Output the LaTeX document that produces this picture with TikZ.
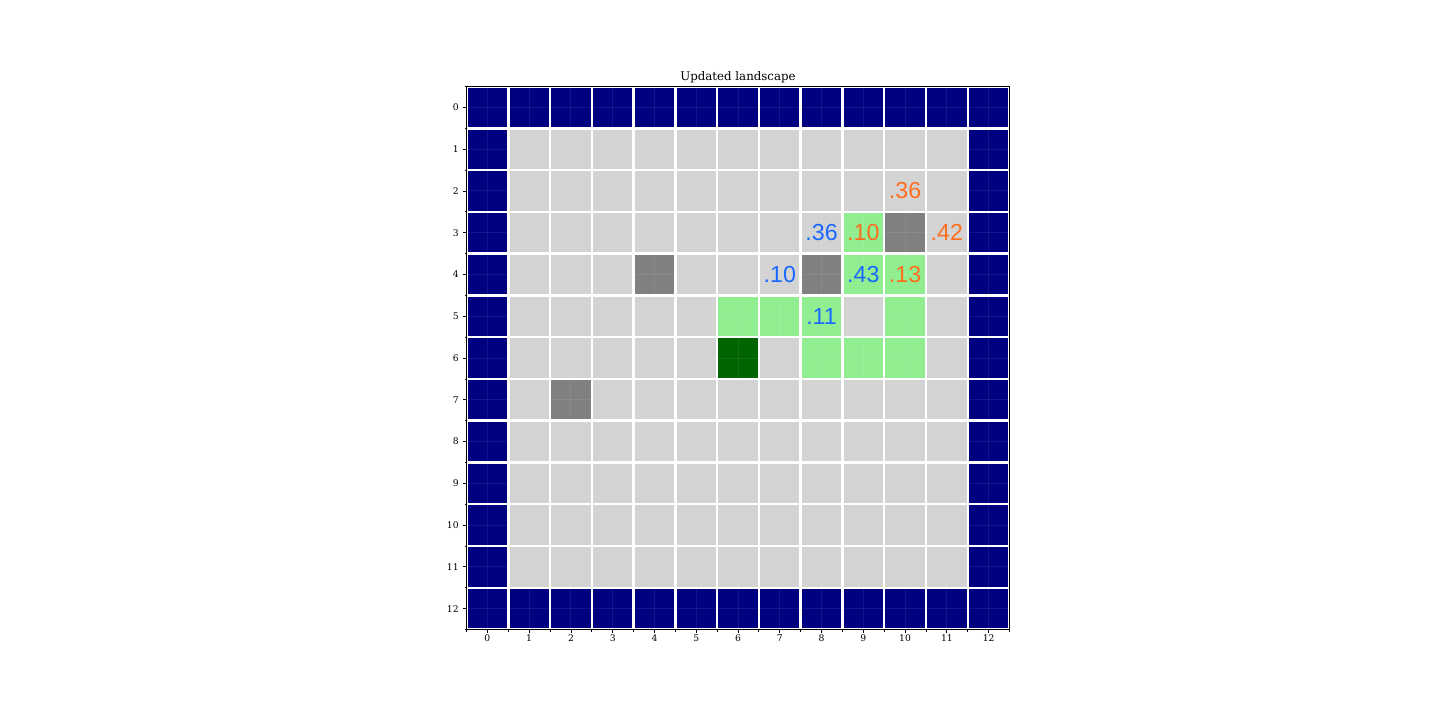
\documentclass[tikz,border=0pt]{standalone}
\usepackage{fontspec}
\setmainfont{DejaVu Serif}
\newfontfamily\numfont{Liberation Sans}
\definecolor{navy}{RGB}{0,0,128}
\definecolor{lgray}{RGB}{211,211,211}
\definecolor{mgray}{RGB}{128,128,128}
\definecolor{lgreen}{RGB}{144,238,144}
\definecolor{dgreen}{RGB}{0,100,0}
\definecolor{vblue}{RGB}{25,105,255}
\definecolor{vorange}{RGB}{255,110,30}
\tikzset{
  valblue/.style={text=vblue,font=\numfont\fontsize{11.6}{13}\selectfont,inner sep=0pt},
  valorange/.style={text=vorange,font=\numfont\fontsize{11.6}{13}\selectfont,inner sep=0pt},
  ticklab/.style={font=\fontsize{4.6}{5}\selectfont,inner sep=0pt},
  tickline/.style={black,line width=0.4pt},
}
\begin{document}
\begin{tikzpicture}[x=0.5pt,y=-0.5pt]
\useasboundingbox (0,0) rectangle (1440,720);
\def\L{466.5}\def\T{86.5}\def\S{41.77}
% cells
\fill[navy] (\L,\T) rectangle ++({13*\S},{13*\S});
\fill[lgray] ({\L+\S},{\T+\S}) rectangle ++({11*\S},{11*\S});
\foreach \r/\c in {3/10,4/4,4/8,7/2}
  \fill[mgray] ({\L+\c*\S},{\T+\r*\S}) rectangle ++(\S,\S);
\foreach \r/\c in {3/9,4/9,4/10,5/6,5/7,5/8,5/10,6/8,6/9,6/10}
  \fill[lgreen] ({\L+\c*\S},{\T+\r*\S}) rectangle ++(\S,\S);
\fill[dgreen] ({\L+6*\S},{\T+6*\S}) rectangle ++(\S,\S);
% faint grid at centres
\foreach \i in {0,...,12} {
  \draw[white,opacity=0.08,line width=0.5pt] ({\L+(\i+0.5)*\S},\T) -- ++(0,{13*\S});
  \draw[white,opacity=0.08,line width=0.5pt] (\L,{\T+(\i+0.5)*\S}) -- ++({13*\S},0);
}
% white cell edges
\foreach \i in {0,...,13} {
  \draw[white,line width=1.25pt] ({\L+\i*\S},\T) -- ++(0,{13*\S});
  \draw[white,line width=1.25pt] (\L,{\T+\i*\S}) -- ++({13*\S},0);
}
% frame
\draw[black,line width=0.5pt] (\L,\T) rectangle ++({13*\S},{13*\S});
% ticks and labels
\foreach \i in {0,...,12} {
  \draw[tickline] (\L,{\T+(\i+0.5)*\S}) -- ++(-3.5,0);
  \draw[tickline] ({\L+(\i+0.5)*\S},{\T+13*\S}) -- ++(0,3.5);
  \node[ticklab,anchor=east] (yl\i) at (459,{\T+(\i+0.5)*\S}) {\i};
  \node[ticklab,anchor=north] (xl\i) at ({\L+(\i+0.5)*\S},634) {\i};
}
\foreach \i in {0,...,13} {
  \draw[tickline] (\L,{\T+\i*\S}) -- ++(-2,0);
  \draw[tickline] ({\L+\i*\S},{\T+13*\S}) -- ++(0,2);
}
% title
\node[font=\fontsize{5.9}{7}\selectfont,anchor=base,inner sep=0pt] (title) at (738,80) {Updated landscape};
% values
\foreach \r/\c/\t/\n in {3/8/.36/b1,4/7/.10/b2,4/9/.43/b3,5/8/.11/b4}
  \node[valblue] (\n) at ({\L+(\c+0.5)*\S},{\T+(\r+0.5)*\S}) {\t};
\foreach \r/\c/\t/\n in {2/10/.36/o1,3/9/.10/o2,3/11/.42/o3,4/10/.13/o4}
  \node[valorange] (\n) at ({\L+(\c+0.5)*\S},{\T+(\r+0.5)*\S}) {\t};
\end{tikzpicture}
\end{document}
